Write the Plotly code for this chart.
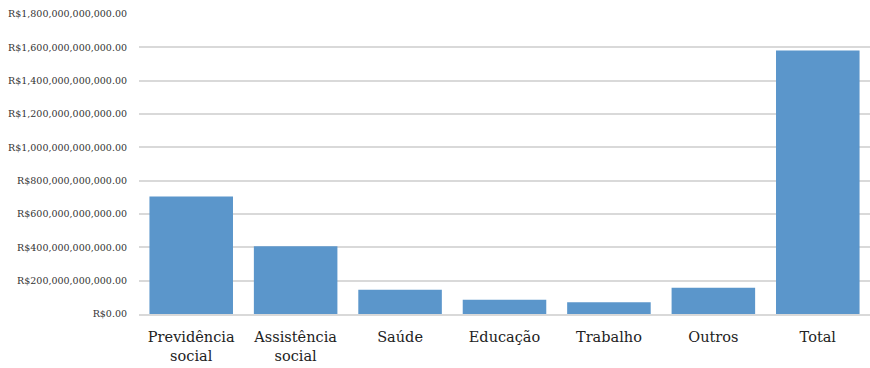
import plotly.graph_objects as go

# Spending by area (R$)
categories = ["Previdência<br>social", "Assistência<br>social", "Saúde", "Educação",
              "Trabalho", "Outros", "Total"]
values = [705e9, 407e9, 145e9, 85e9, 71e9, 157e9, 1581e9]

tick_values = [i * 200e9 for i in range(10)]
tick_labels = [f"R${v:,.2f}" for v in tick_values]

SERIF = "DejaVu Serif"

fig = go.Figure(
    go.Bar(
        x=categories,
        y=values,
        marker=dict(color="#5B96CB", line=dict(width=0)),
        hoverinfo="x+y",
    )
)

fig.update_layout(
    width=870,
    height=368,
    margin=dict(l=139, r=0, t=14, b=54),
    paper_bgcolor="white",
    plot_bgcolor="white",
    bargap=0.2,
    showlegend=False,
    font=dict(family=SERIF, color="#222222"),
)

fig.update_yaxes(
    range=[0, 1.8e12],
    tickvals=tick_values,
    ticktext=tick_labels,
    showgrid=True,
    gridcolor="#D9D9D9",
    gridwidth=1.5,
    zeroline=False,
    showline=False,
    ticks="",
    ticklabelstandoff=11,
    tickfont=dict(family=SERIF, size=9.5, color="#333333"),
)

fig.update_xaxes(
    showline=True,
    linecolor="#D9D9D9",
    linewidth=1.5,
    showgrid=False,
    ticks="",
    ticklabelstandoff=9,
    tickfont=dict(family=SERIF, size=14.5, color="#222222"),
)

fig.write_html("out.html")
